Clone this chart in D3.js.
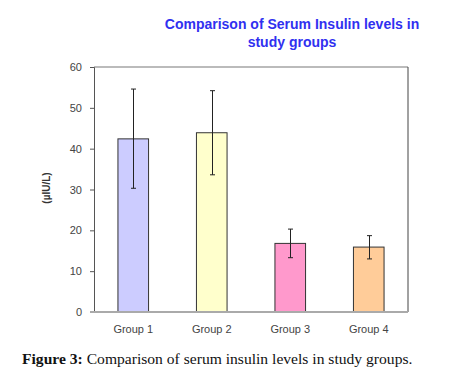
<!DOCTYPE html>
<html><head><meta charset="utf-8">
<script src="https://cdn.jsdelivr.net/npm/d3@7"></script>
<style>body{margin:0;background:#fff}svg{display:block}</style>
</head><body>
<script>
const categories = ["Group 1","Group 2","Group 3","Group 4"];
const means = [42.4, 43.9, 16.8, 15.9];
const errLow = [30.3, 33.6, 13.3, 13.0];
const errHigh = [54.6, 54.2, 20.3, 18.7];
const colors = ["#ccccff","#ffffcc","#ff99cc","#ffcc99"];
const yTicks = [0,10,20,30,40,50,60];

(function(){
const W=465,H=382;
const svg=d3.select("body").append("svg").attr("width",W).attr("height",H);
const pL=94,pR=408,pT=67,pB=312;
const x=d3.scaleBand().domain(categories).range([pL,pR]).paddingInner(0.61).paddingOuter(0.305);
const y=d3.scaleLinear().domain([0,60]).range([pB,pT]);

// title
const title=svg.append("text").attr("text-anchor","middle").attr("fill","#3030f0")
 .attr("font-family","Liberation Sans, Arial, sans-serif").attr("font-weight","bold").attr("font-size",14);
title.append("tspan").attr("x",292).attr("y",29).text("Comparison of Serum Insulin levels in");
title.append("tspan").attr("x",292).attr("y",47).text("study groups");

// top line
svg.append("line").attr("x1",pL).attr("x2",pR).attr("y1",y(60)).attr("y2",y(60)).attr("stroke","#bbb").attr("stroke-width",2);
// right line
svg.append("line").attr("x1",pR).attr("x2",pR).attr("y1",y(60)).attr("y2",pB).attr("stroke","#444").attr("stroke-width",1);

// bars
svg.selectAll("rect.bar").data(categories).join("rect")
 .attr("x",d=>x(d)).attr("width",x.bandwidth())
 .attr("y",(d,i)=>y(means[i])).attr("height",(d,i)=>pB-y(means[i]))
 .attr("fill",(d,i)=>colors[i]).attr("stroke","#333").attr("stroke-width",1);

// error bars
const eg=svg.append("g").attr("stroke","#222").attr("stroke-width",1);
categories.forEach((c,i)=>{
  const cx=Math.round(x(c)+x.bandwidth()/2)+0.5;
  eg.append("line").attr("x1",cx).attr("x2",cx).attr("y1",y(errHigh[i])).attr("y2",y(errLow[i]));
  [errHigh[i],errLow[i]].forEach(v=>{
    eg.append("line").attr("x1",cx-2.5).attr("x2",cx+2.5).attr("y1",y(v)).attr("y2",y(v));
  });
});

// y axis
const ya=svg.append("g").attr("transform",`translate(${pL},0)`)
 .call(d3.axisLeft(y).tickValues(yTicks).tickSize(4).tickPadding(8));
ya.select(".domain").attr("stroke","#555");
ya.selectAll(".tick line").attr("stroke","#555");
ya.selectAll("text").attr("font-family","Liberation Sans, Arial, sans-serif").attr("font-size",11).attr("fill","#444");

// x axis
const xa=svg.append("g").attr("transform",`translate(0,${pB})`)
 .call(d3.axisBottom(x).tickSize(0).tickPadding(13));
xa.select(".domain").attr("stroke","#aaa").attr("stroke-width",2).attr("d",`M${pL-4},0H${pR}`);
xa.selectAll("text").attr("font-family","Liberation Sans, Arial, sans-serif").attr("font-size",11).attr("fill","#444");

// y label
svg.append("text").attr("transform","translate(50,188) rotate(-90)").attr("text-anchor","middle")
 .attr("font-family","Liberation Sans, Arial, sans-serif").attr("font-weight","bold").attr("font-size",10).attr("fill","#333")
 .text("(µIU/L)");

// caption
const cap=svg.append("text").attr("x",22).attr("y",364).attr("font-family","Liberation Serif, Times New Roman, serif").attr("font-size",15.6).attr("fill","#111");
cap.append("tspan").attr("font-weight","bold").text("Figure 3:");
cap.append("tspan").text(" Comparison of serum insulin levels in study groups.");
})();
</script>
</body></html>
